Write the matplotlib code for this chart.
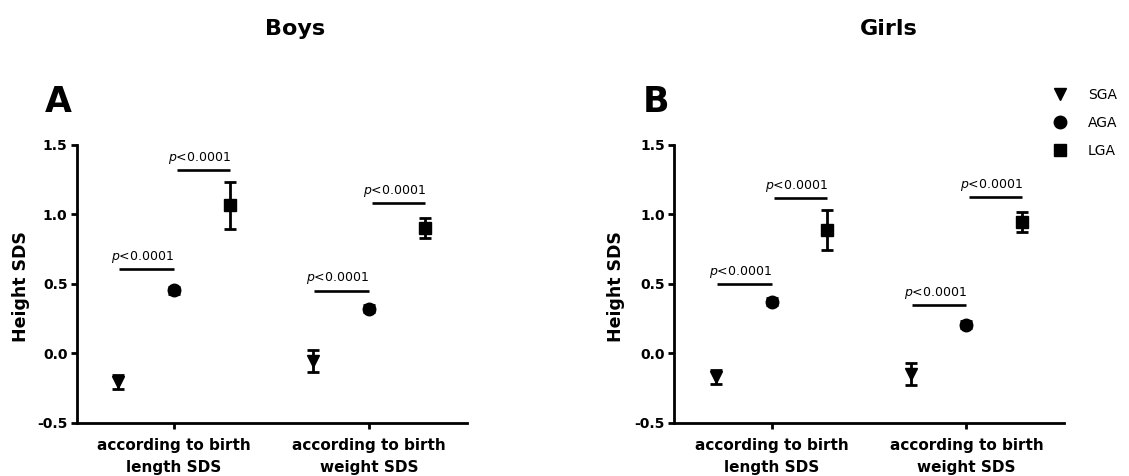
import matplotlib
matplotlib.use("Agg")
import matplotlib.pyplot as plt
from matplotlib.lines import Line2D

categories = ['according to birth\nlength SDS', 'according to birth\nweight SDS']
groups = ['SGA', 'AGA', 'LGA']
ytick_values = [-0.5, 0.0, 0.5, 1.0, 1.5]
ytick_labels = ['-0.5', '0.0', '0.5', '1.0', '1.5']

# mean and error (SEM) per category: [length SDS, weight SDS]
boys_sga_mean = [-0.205, -0.055]
boys_sga_err = [0.05, 0.082]
boys_aga_mean = [0.455, 0.32]
boys_aga_err = [0.025, 0.025]
boys_lga_mean = [1.065, 0.905]
boys_lga_err = [0.172, 0.072]

girls_sga_mean = [-0.17, -0.147]
girls_sga_err = [0.05, 0.08]
girls_aga_mean = [0.37, 0.207]
girls_aga_err = [0.025, 0.025]
girls_lga_mean = [0.89, 0.945]
girls_lga_err = [0.145, 0.071]

# p-value bar heights per category: (SGA vs AGA, AGA vs LGA)
boys_bracket_y = [[0.607, 1.318], [0.452, 1.082]]
girls_bracket_y = [[0.50, 1.116], [0.344, 1.122]]
p_label = '$p$<0.0001'

markers = {'SGA': 'v', 'AGA': 'o', 'LGA': 's'}
shift = {'SGA': -0.285, 'AGA': 0.0, 'LGA': 0.285}


def draw_panel(ax, means, errs, brackets):
    for g in groups:
        xs = [i + shift[g] for i in range(len(categories))]
        ax.errorbar(xs, means[g], yerr=errs[g], fmt=markers[g], color='black',
                    markersize=9, elinewidth=2, capsize=4.6, capthick=2)
    for i, (y1, y2) in enumerate(brackets):
        spans = [(i + shift['SGA'] + 0.005, i + 0.0), (i + 0.015, i + shift['LGA'])]
        for (xa, xb), y in zip(spans, (y1, y2)):
            ax.plot([xa, xb], [y, y], color='black', lw=1.9, solid_capstyle='butt')
            ax.annotate(p_label, xy=((xa + xb) / 2, y), xytext=(-3, 3),
                        textcoords='offset points', ha='center', va='bottom',
                        fontsize=9)

    ax.set_xlim(-0.5, 1.5)
    ax.set_ylim(-0.5, 1.5)
    ax.set_xticks(range(len(categories)))
    ax.set_xticklabels(categories, fontsize=11, fontweight='bold', linespacing=1.6)
    ax.set_yticks(ytick_values)
    ax.set_yticklabels(ytick_labels, fontsize=10, fontweight='bold')
    for s in ['top', 'right']:
        ax.spines[s].set_visible(False)
    for s in ['left', 'bottom']:
        ax.spines[s].set_linewidth(2)
    ax.tick_params(axis='y', length=4.5, width=2, pad=2)
    ax.tick_params(axis='x', length=4, width=2, pad=7)
    ax.set_ylabel('Height SDS', fontsize=12.5, fontweight='bold', va='center')


fig = plt.figure(figsize=(11.29, 4.76), dpi=100)
ax1 = fig.add_axes([0.0678, 0.112, 0.3454, 0.5834])
ax2 = fig.add_axes([0.597, 0.112, 0.3454, 0.5834])

draw_panel(ax1,
           {'SGA': boys_sga_mean, 'AGA': boys_aga_mean, 'LGA': boys_lga_mean},
           {'SGA': boys_sga_err, 'AGA': boys_aga_err, 'LGA': boys_lga_err},
           boys_bracket_y)
draw_panel(ax2,
           {'SGA': girls_sga_mean, 'AGA': girls_aga_mean, 'LGA': girls_lga_mean},
           {'SGA': girls_sga_err, 'AGA': girls_aga_err, 'LGA': girls_lga_err},
           girls_bracket_y)
ax1.yaxis.set_label_coords(-0.142, 0.49)
ax2.yaxis.set_label_coords(-0.149, 0.49)

fig.text(295 / 1129, 1 - 29 / 476, 'Boys', ha='center', va='center',
         fontsize=16, fontweight='bold')
fig.text(889 / 1129, 1 - 29 / 476, 'Girls', ha='center', va='center',
         fontsize=16, fontweight='bold')
fig.text(45 / 1129, 1 - 112 / 476, 'A', ha='left', va='baseline',
         fontsize=25, fontweight='bold')
fig.text(643 / 1129, 1 - 112 / 476, 'B', ha='left', va='baseline',
         fontsize=25, fontweight='bold')

handles = [Line2D([], [], marker=markers[g], color='black', linestyle='none',
                  markersize=9) for g in groups]
fig.legend(handles, groups, loc='upper left', bbox_to_anchor=(1053 / 1129, 1 - 88 / 476),
           frameon=False, fontsize=10, handlelength=1.0, handletextpad=1.5,
           labelspacing=1.0, borderpad=0, borderaxespad=0)

fig.savefig('out.png', dpi=100)
